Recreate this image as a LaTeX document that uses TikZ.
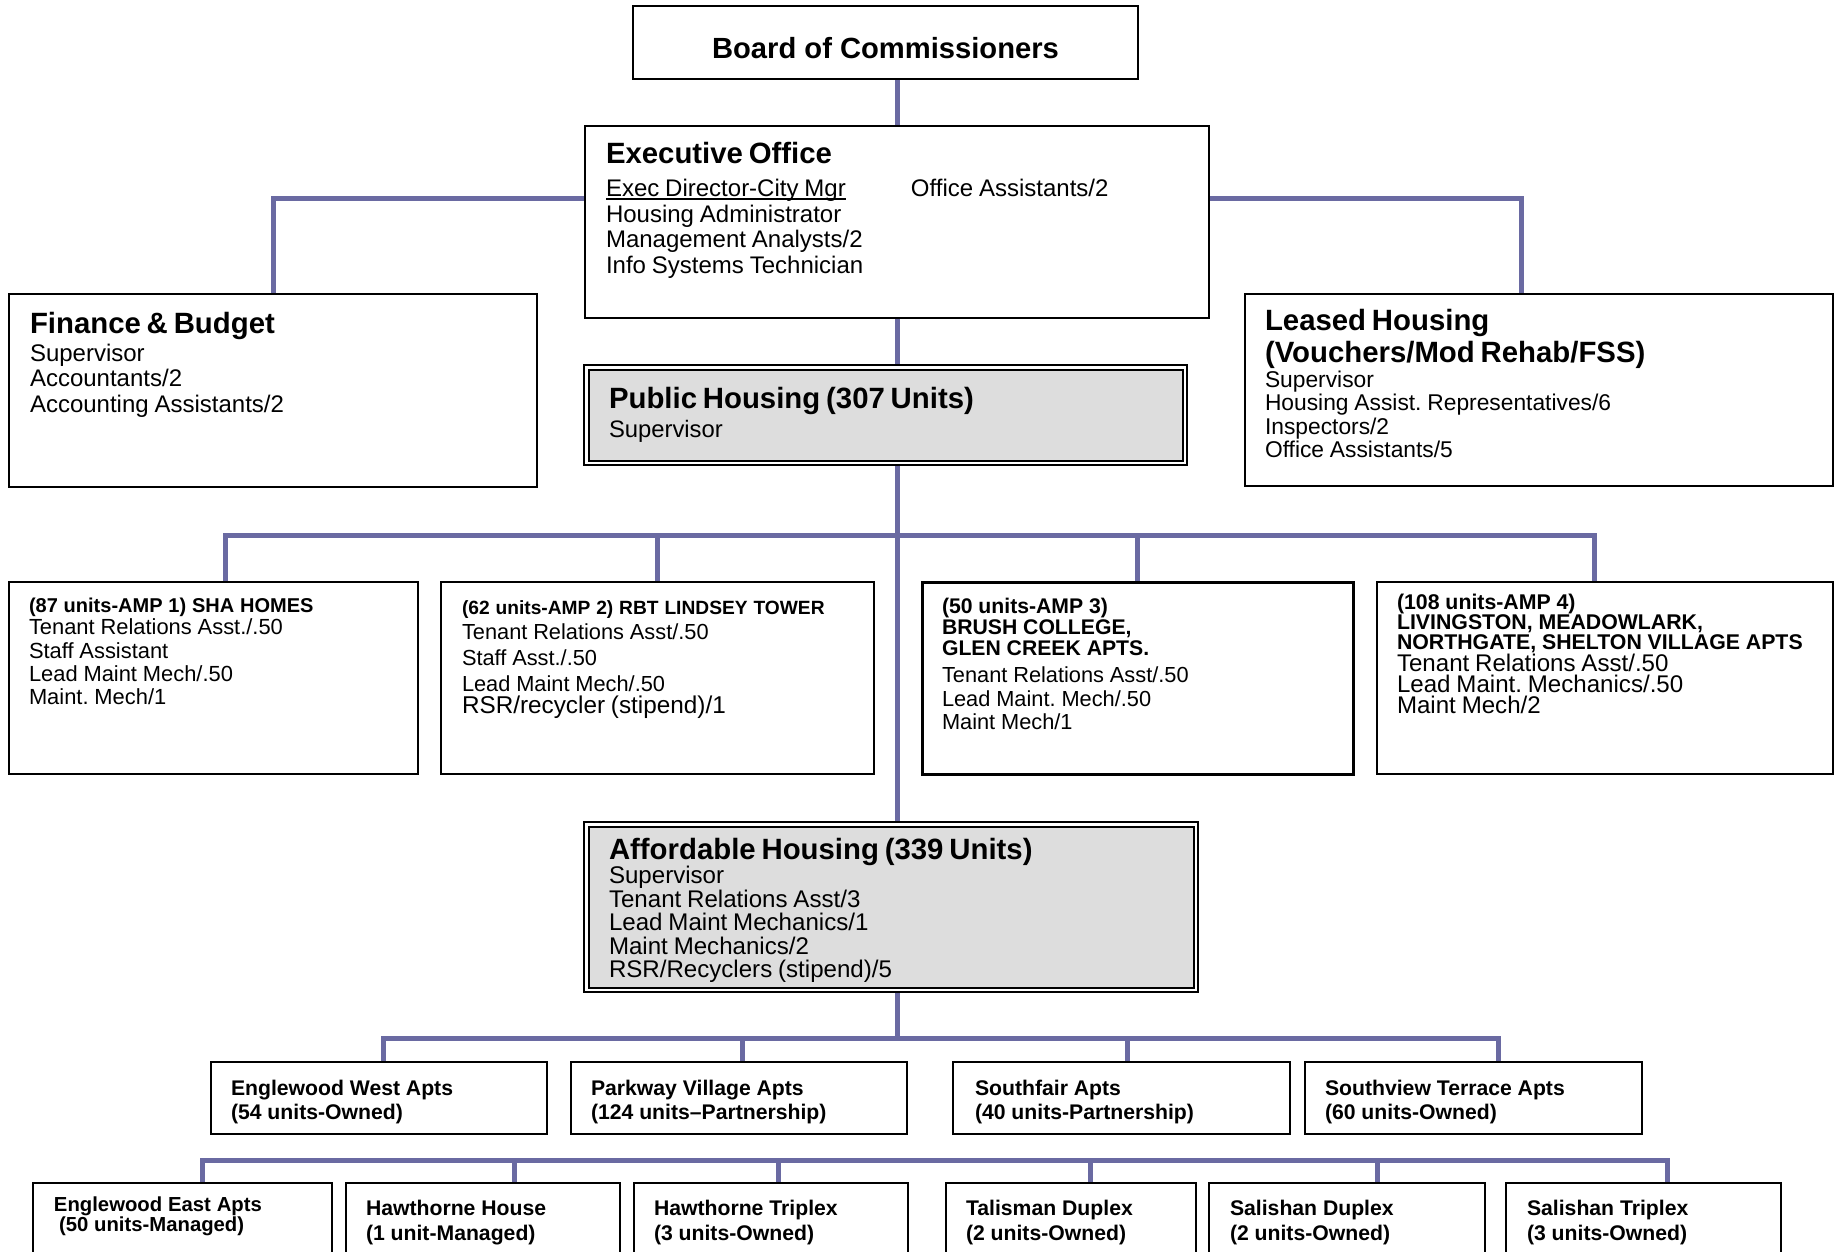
\documentclass[tikz,border=0pt]{standalone}
\usepackage{fontspec}
\setmainfont{Liberation Sans}
\usepackage{tikz}
\usetikzlibrary{backgrounds}
\pgfdeclarelayer{links}
\pgfsetlayers{background,links,main}
\definecolor{linkblue}{HTML}{6A6AA2}
\definecolor{coregray}{HTML}{DDDDDD}
\frenchspacing
\tikzset{
  unit/.style={rectangle, draw=black, line width=0.04cm, fill=white, align=left,
    inner xsep=0.41cm, inner ysep=0pt},
  unit/top/.style={unit, align=center, inner xsep=0pt,
    font=\bfseries\fontsize{16.6}{17}\selectfont},
  unit/core/.style={unit, fill=coregray, double=white, double distance=0.05cm,
    inner xsep=0.455cm},
  unit/site/.style={unit, inner xsep=0.40cm, text height=0.66cm, text depth=0.78cm},
  unit/lot/.style={unit, inner xsep=0.40cm, text height=0.656cm, text depth=1.344cm},
  link/.style={draw=linkblue, line width=0.1cm},
}
\newcommand{\HD}[1]{{\fontsize{16.7}{17}\selectfont\bfseries #1}}
\newcommand{\SZ}[2]{\fontsize{#1}{#2}\selectfont\lineskiplimit=-1cm\relax}
\newcommand{\TL}[2]{{\fontsize{#1}{#1}\selectfont\bfseries #2}}
\newcommand{\UL}[1]{\setbox0\hbox{#1}\rlap{\rule[-0.065cm]{\wd0}{0.035cm}}\box0}

\begin{document}
\begin{tikzpicture}

\useasboundingbox (0,0) rectangle (36.78,-25.02);
\clip (0,0) rectangle (36.78,-25.02);

\node[unit/top, minimum width=10.10cm, text height=1.05cm, text depth=0.41cm] (Bd) at (17.71,-0.85) {Board of Commissioners};

\node[unit, text width=11.64cm, inner xsep=0.42cm, text height=0.745cm, text depth=3.095cm] (EO) at (17.94,-4.44)
  {\SZ{13.66}{14.68}\HD{Executive Office}\\[0.144cm]
   \makebox[6.1cm][l]{\UL{Exec Director-City Mgr}}Office Assistants/2\\
   Housing Administrator\\
   Management Analysts/2\\
   Info Systems Technician\par};

\node[unit, text width=9.72cm, inner xsep=0.42cm, text height=0.78cm, text depth=3.08cm] (FB) at (5.46,-7.81)
  {\SZ{13.66}{14.68}\HD{Finance \& Budget}\\[0.044cm]
   Supervisor\\ Accountants/2\\ Accounting Assistants/2\par};

\node[unit, text width=10.96cm, inner xsep=0.40cm, text height=0.735cm, text depth=3.105cm] (LH) at (30.78,-7.80)
  {\SZ{12.97}{13.37}\HD{Leased Housing}\\[0.16cm]\HD{(Vouchers/Mod Rehab/FSS)}\\[0.03cm]
   Supervisor\\ Housing Assist. Representatives/6\\ Inspectors/2\\ Office Assistants/5\par};

\node[unit/core, text width=11.06cm, text height=0.815cm, text depth=1.095cm] (PH) at (17.71,-8.30)
  {\SZ{13.55}{16.95}\HD{Public Housing (307 Units)}\\ Supervisor\par};

% AMP sites
\node[unit, text width=7.38cm, inner xsep=0.40cm, text height=0.60cm, text depth=3.24cm] (A1) at (4.27,-13.56)
  {\SZ{12.46}{13.37}\TL{11.38}{(87 units-AMP 1) SHA HOMES}\\[-0.02cm]
   Tenant Relations Asst./.50\\ Staff Assistant\\ Lead Maint Mech/.50\\ Maint. Mech/1\par};
\node[unit, text width=7.82cm, inner xsep=0.42cm, text height=0.645cm, text depth=3.195cm] (A2) at (13.15,-13.56)
  {\SZ{12.4}{14.68}\TL{10.92}{(62 units-AMP 2) RBT LINDSEY TOWER}\\[-0.01cm]
   Tenant Relations Asst/.50\\ Staff Asst./.50\\ Lead Maint Mech/.50\\[-0.068cm]
   {\fontsize{13.83}{14.68}\selectfont RSR/recycler (stipend)/1}\par};
\node[unit, line width=0.06cm, text width=7.82cm, inner xsep=0.40cm, text height=0.62cm, text depth=3.22cm] (A3) at (22.75,-13.56)
  {\SZ{12.4}{13.37}\TL{12.06}{(50 units-AMP 3)}\\[-0.048cm]\TL{12.06}{BRUSH COLLEGE,}\\[-0.048cm]
   \TL{12.06}{GLEN CREEK APTS.}\\[0.08cm]
   Tenant Relations Asst/.50\\ Lead Maint. Mech/.50\\ Maint Mech/1\par};
\node[unit, text width=8.32cm, inner xsep=0.40cm, text height=0.555cm, text depth=3.285cm] (A4) at (32.10,-13.56)
  {\SZ{13.71}{11.95}\TL{12.12}{(108 units-AMP 4)}\\[-0.025cm]\TL{12.12}{LIVINGSTON, MEADOWLARK,}\\[-0.025cm]
   \TL{12.12}{NORTHGATE, SHELTON VILLAGE APTS}\\[0.03cm]
   Tenant Relations Asst/.50\\ Lead Maint. Mechanics/.50\\ Maint Mech/2\par};

\node[unit/core, text width=11.28cm, text height=0.695cm, text depth=2.615cm] (AH) at (17.82,-18.14)
  {\SZ{13.71}{13.34}\HD{Affordable Housing (339 Units)}\\[0.03cm]
   Supervisor\\ Tenant Relations Asst/3\\ Lead Maint Mechanics/1\\ Maint Mechanics/2\\ RSR/Recyclers (stipend)/5\par};

% affordable sites
\node[unit/site, text width=5.92cm] (EW) at (7.58,-21.96) {\SZ{12.06}{14}\bfseries Englewood West Apts\\(54 units-Owned)\par};
\node[unit/site, text width=5.92cm] (PV) at (14.78,-21.96) {\SZ{12.06}{14}\bfseries Parkway Village Apts\\(124 units--Partnership)\par};
\node[unit/site, text width=5.86cm, inner xsep=0.44cm] (SF) at (22.43,-21.96) {\SZ{12.06}{14}\bfseries Southfair Apts\\(40 units-Partnership)\par};
\node[unit/site, text width=5.94cm] (SV) at (29.47,-21.96) {\SZ{12.06}{14}\bfseries Southview Terrace Apts\\(60 units-Owned)\par};

\node[unit/lot, text width=5.14cm, inner xsep=0.42cm, text height=0.565cm, text depth=1.435cm] (EE) at (3.65,-24.66)
  {\SZ{11.55}{11.38}\bfseries Englewood East Apts\\\hspace*{0.1cm}(50 units-Managed)\par};
\node[unit/lot, text width=4.68cm] (HH) at (9.66,-24.66) {\SZ{12.06}{13.94}\bfseries Hawthorne House\\(1 unit-Managed)\par};
\node[unit/lot, text width=4.68cm] (HT) at (15.42,-24.66) {\SZ{12.06}{13.94}\bfseries Hawthorne Triplex\\(3 units-Owned)\par};
\node[unit/lot, text width=4.20cm] (TD) at (21.42,-24.66) {\SZ{12.06}{13.94}\bfseries Talisman Duplex\\(2 units-Owned)\par};
\node[unit/lot, text width=4.68cm, inner xsep=0.42cm] (SD) at (26.94,-24.66) {\SZ{12.06}{13.94}\bfseries Salishan Duplex\\(2 units-Owned)\par};
\node[unit/lot, text width=4.66cm, inner xsep=0.42cm] (ST) at (32.87,-24.66) {\SZ{12.06}{13.94}\bfseries Salishan Triplex\\(3 units-Owned)\par};

\begin{scope}[on background layer]
  \fill[white] (0,0) rectangle (36.78,-25.02);
\end{scope}

\begin{pgfonlayer}{links}
\coordinate (LHtap) at (30.42,-3.96);
\coordinate (PHbus) at (17.94,-10.70);
\coordinate (B1a) at (4.50,-10.70);
\coordinate (B1d) at (31.88,-10.70);
\coordinate (B2a) at (7.66,-20.76);
\coordinate (B2b) at (14.84,-20.76);
\coordinate (B2c) at (22.54,-20.76);
\coordinate (B2d) at (29.96,-20.76);
\coordinate (B3a) at (4.04,-23.20);
\coordinate (B3b) at (10.28,-23.20);
\coordinate (B3c) at (15.56,-23.20);
\coordinate (B3d) at (21.80,-23.20);
\coordinate (B3e) at (27.54,-23.20);
\coordinate (B3f) at (33.34,-23.20);

\draw[link] (EO.north) -- (EO.north |- Bd.south);
\draw[link] (EO.west |- LHtap) -| (FB.north);
\draw[link] (EO.east |- LHtap) -- (LHtap) -- (LHtap |- LH.north);
\draw[link] (EO.south) -- (EO.south |- PH.north);
\draw[link] (PHbus |- PH.south) -- (PHbus |- AH.north);

\draw[link] (B1a |- A1.north) -- (B1a) -- (B1d) -- (B1d |- A4.north);
\draw[link] (A2.north) -- (A2.north |- B1a);
\draw[link] (A3.north) -- (A3.north |- B1a);

\draw[link] (PHbus |- AH.south) -- (PHbus |- B2a);
\draw[link] (B2a |- EW.north) -- (B2a) -- (B2d) -- (B2d |- SV.north);
\draw[link] (B2b) -- (B2b |- PV.north);
\draw[link] (B2c) -- (B2c |- SF.north);

\draw[link] (B3a |- EE.north) -- (B3a) -- (B3f) -- (B3f |- ST.north);
\draw[link] (B3b) -- (B3b |- HH.north);
\draw[link] (B3c) -- (B3c |- HT.north);
\draw[link] (B3d) -- (B3d |- TD.north);
\draw[link] (B3e) -- (B3e |- SD.north);
\end{pgfonlayer}

\end{tikzpicture}
\end{document}
